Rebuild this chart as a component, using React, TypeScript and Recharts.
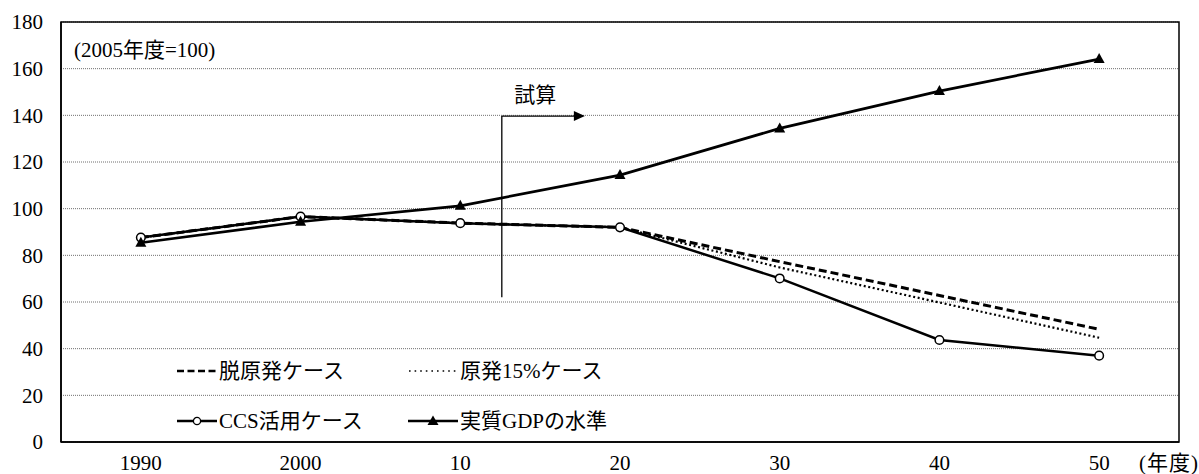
import React from 'react'
import {
  LineChart,
  Line,
  XAxis,
  YAxis,
  CartesianGrid,
  Legend,
  ReferenceLine,
  ReferenceArea
} from 'recharts'

const FONT = "'Liberation Serif', 'Noto Sans CJK JP', serif"

// fiscal years (x axis)
const years = [1990, 2000, 2010, 2020, 2030, 2040, 2050]
const yTicks = [0, 20, 40, 60, 80, 100, 120, 140, 160, 180]

// index values, FY2005 = 100
const noNuclear = [87.6, 96.6, 93.8, 92, 77.3, 62.8, 48.3]
const nuclear15 = [87.6, 96.6, 93.8, 92, 74.8, 59.8, 44.7]
const ccsCase = [87.6, 96.6, 93.8, 92, 70.1, 43.7, 37]
const realGdp = [85.4, 94.4, 101.2, 114.4, 134.4, 150.4, 164.1]

const rows = years.map((year, i) => ({
  year,
  noNuclear: noNuclear[i],
  nuclear15: nuclear15[i],
  ccs: ccsCase[i],
  gdp: realGdp[i]
}))

const formatYear = (y: number) => (y % 100 === 90 || y === 2000 ? String(y) : String(y % 100))

function CircleDot(props: any) {
  const { cx, cy, index } = props
  return <circle key={`c${index}`} cx={cx} cy={cy} r={4.3} fill="#fff" stroke="#000" strokeWidth={1.5} />
}

function TriangleDot(props: any) {
  const { cx, cy, index } = props
  return (
    <polygon
      key={`t${index}`}
      points={`${cx},${cy - 6} ${cx + 5.5},${cy + 4} ${cx - 5.5},${cy + 4}`}
      fill="#000"
    />
  )
}

// the "試算" arrow: horizontal segment with a filled head and a caption above
function ArrowShape(props: any) {
  const { x1, y1, x2, y2 } = props
  return (
    <g>
      <line x1={x1} y1={y1} x2={x2 - 9} y2={y2} stroke="#000" strokeWidth={1.3} />
      <polygon points={`${x2},${y2} ${x2 - 11},${y2 - 5} ${x2 - 11},${y2 + 5}`} fill="#000" />
      <text x={(x1 + x2) / 2 - 8} y={y1 - 21} textAnchor="middle" dominantBaseline="central" fontSize={21} fontFamily={FONT} fill="#000">
        試算
      </text>
    </g>
  )
}

function Swatch({ kind }: { kind: string }) {
  if (kind === 'dash') {
    return (
      <svg width={40} height={10} style={{ display: 'block' }}>
        <line x1={0} y1={5} x2={40} y2={5} stroke="#000" strokeWidth={2.5} strokeDasharray="7 3.5" />
      </svg>
    )
  }
  if (kind === 'dot') {
    return (
      <svg width={50} height={10} style={{ display: 'block' }}>
        <line x1={1} y1={5} x2={50} y2={5} stroke="#000" strokeWidth={1.6} strokeDasharray="1.6 4" />
      </svg>
    )
  }
  if (kind === 'circle') {
    return (
      <svg width={40} height={12} style={{ display: 'block' }}>
        <line x1={0} y1={6} x2={40} y2={6} stroke="#000" strokeWidth={2.5} />
        <circle cx={20} cy={6} r={3.6} fill="#fff" stroke="#000" strokeWidth={1.3} />
      </svg>
    )
  }
  return (
    <svg width={50} height={12} style={{ display: 'block' }}>
      <line x1={0} y1={6} x2={50} y2={6} stroke="#000" strokeWidth={2.5} />
      <polygon points="25,0.5 30.5,10 19.5,10" fill="#000" />
    </svg>
  )
}

const legendItems = [
  { label: '脱原発ケース', kind: 'dash', left: 7, top: 0 },
  { label: '原発15%ケース', kind: 'dot', left: 238, top: 0 },
  { label: 'CCS活用ケース', kind: 'circle', left: 7, top: 50 },
  { label: '実質GDPの水準', kind: 'triangle', left: 238, top: 50 }
]

function LegendBox() {
  return (
    <div style={{ position: 'relative', width: 480, height: 90, fontFamily: FONT, fontSize: 21, color: '#000' }}>
      {legendItems.map(it => (
        <div
          key={it.label}
          style={{ position: 'absolute', left: it.left, top: it.top, height: 32, display: 'flex', alignItems: 'center', gap: 2, whiteSpace: 'nowrap' }}
        >
          <Swatch kind={it.kind} />
          <span style={{ lineHeight: '32px' }}>{it.label}</span>
        </div>
      ))}
    </div>
  )
}

export default function App() {
  const tickStyle = { fill: '#000', fontSize: 21, fontFamily: FONT }
  return (
    <div style={{ position: 'absolute', left: 0, top: 0, width: 1199, height: 474, background: '#fff', fontFamily: FONT }}>
      <LineChart width={1199} height={474} data={rows} margin={{ top: 22, right: 20, bottom: 0, left: 0 }}>
        <CartesianGrid vertical={false} stroke="#6f6f6f" strokeDasharray="1 1" />
        <ReferenceArea x1={1985} x2={2055} y1={0} y2={180} fill="none" stroke="#000" strokeWidth={1.5} ifOverflow="visible" />
        <XAxis
          dataKey="year"
          type="number"
          domain={[1985, 2055]}
          ticks={years}
          tickFormatter={formatYear}
          tick={tickStyle}
          tickLine={false}
          tickSize={0}
          tickMargin={13}
          axisLine={{ stroke: '#000', strokeWidth: 1.5 }}
          height={32}
        />
        <YAxis
          domain={[0, 180]}
          ticks={yTicks}
          tick={tickStyle}
          tickLine={false}
          tickSize={0}
          tickMargin={18}
          axisLine={{ stroke: '#000', strokeWidth: 1.5 }}
          width={61}
        />
        <ReferenceLine
          segment={[{ x: 2012.6, y: 62 }, { x: 2012.6, y: 139.7 }]}
          stroke="#000"
          strokeWidth={1.3}
        />
        <ReferenceLine
          segment={[{ x: 2012.6, y: 139.7 }, { x: 2017.8, y: 139.7 }]}
          shape={ArrowShape}
        />
        <Line dataKey="noNuclear" stroke="#000" strokeWidth={3} strokeDasharray="8 4" dot={false} isAnimationActive={false} />
        <Line dataKey="nuclear15" stroke="#000" strokeWidth={2.2} strokeDasharray="2 2.6" dot={false} isAnimationActive={false} />
        <Line dataKey="ccs" stroke="#000" strokeWidth={2.5} dot={CircleDot} isAnimationActive={false} />
        <Line dataKey="gdp" stroke="#000" strokeWidth={2.7} dot={TriangleDot} isAnimationActive={false} />
        <Legend
          layout="vertical"
          align="center"
          verticalAlign="middle"
          content={() => <LegendBox />}
          wrapperStyle={{ position: 'absolute', left: 170, top: 355, width: 480, height: 90 }}
        />
      </LineChart>
      <div style={{ position: 'absolute', left: 74, top: 36, fontSize: 21, lineHeight: '28px', color: '#000', whiteSpace: 'nowrap' }}>
        (2005年度=100)
      </div>
      <div style={{ position: 'absolute', left: 1139, top: 449, fontSize: 21, lineHeight: '28px', color: '#000', whiteSpace: 'nowrap', letterSpacing: 1 }}>
        (年度)
      </div>
    </div>
  )
}
